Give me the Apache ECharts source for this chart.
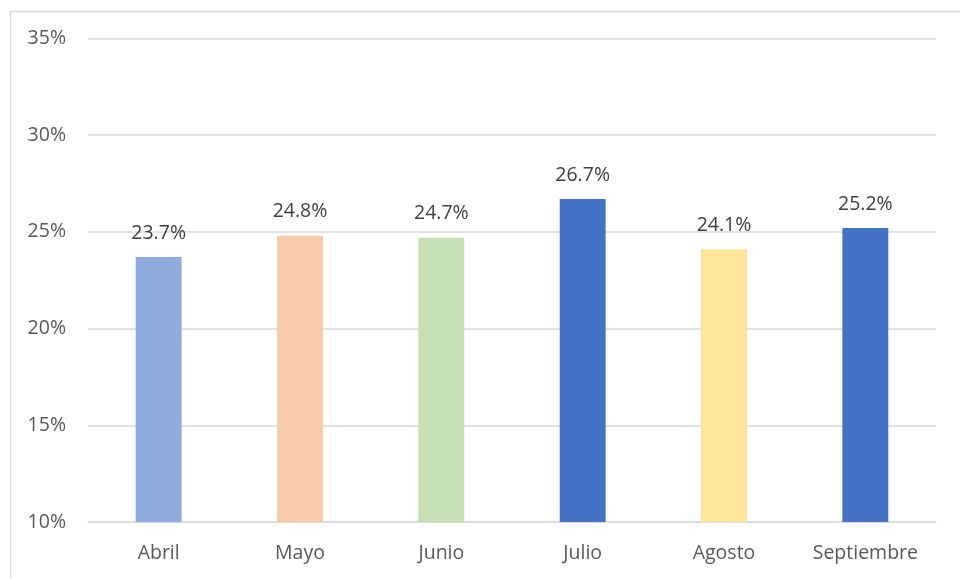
<!DOCTYPE html>
<html>
<head>
<meta charset="utf-8">
<script src="https://cdn.jsdelivr.net/npm/echarts@6/dist/echarts.min.js"></script>
<style>
html,body{margin:0;padding:0;background:#fff;}
#chart{width:960px;height:578px;}
</style>
</head>
<body>
<div id="chart"></div>
<script>
const categories = ['Abril', 'Mayo', 'Junio', 'Julio', 'Agosto', 'Septiembre'];
const values = [23.7, 24.8, 24.7, 26.7, 24.1, 25.2];
const barColors = ['#8FAADC', '#F8CBAD', '#C5E0B4', '#4472C4', '#FFE699', '#4472C4'];
const yTicks = [10, 15, 20, 25, 30, 35];

const chart = echarts.init(document.getElementById('chart'));
const font = '"Open Sans", "Noto Sans", sans-serif';
chart.setOption({
  animation: false,
  graphic: [{
    type: 'rect',
    shape: {x: 10.5, y: 11.5, width: 1000, height: 700},
    style: {fill: 'none', stroke: '#d9d9d9', lineWidth: 1.5},
    silent: true, z: -10
  }],
  grid: {left: 88, right: 24, top: 38.5, bottom: 56, containLabel: false},
  xAxis: {
    type: 'category',
    data: categories,
    axisLine: {show: true, lineStyle: {color: '#d9d9d9', width: 1.5}},
    axisTick: {show: false},
    axisLabel: {color: '#595959', fontSize: 19.5, fontFamily: font, margin: 21}
  },
  yAxis: {
    type: 'value',
    min: yTicks[0],
    max: yTicks[yTicks.length - 1],
    interval: 5,
    axisLine: {show: false},
    axisTick: {show: false},
    splitLine: {lineStyle: {color: '#d9d9d9', width: 1.5}},
    axisLabel: {color: '#595959', fontSize: 19.5, fontFamily: font, margin: 22,
      formatter: v => v + '%'}
  },
  series: [{
    type: 'bar',
    barWidth: '32.5%',
    data: values.map((v, i) => ({value: v, itemStyle: {color: barColors[i]}})),
    label: {
      show: true, position: 'top', distance: 14,
      color: '#404040', fontSize: 19.5, fontFamily: font,
      formatter: p => p.value.toFixed(1) + '%'
    }
  }]
});
</script>
</body>
</html>
